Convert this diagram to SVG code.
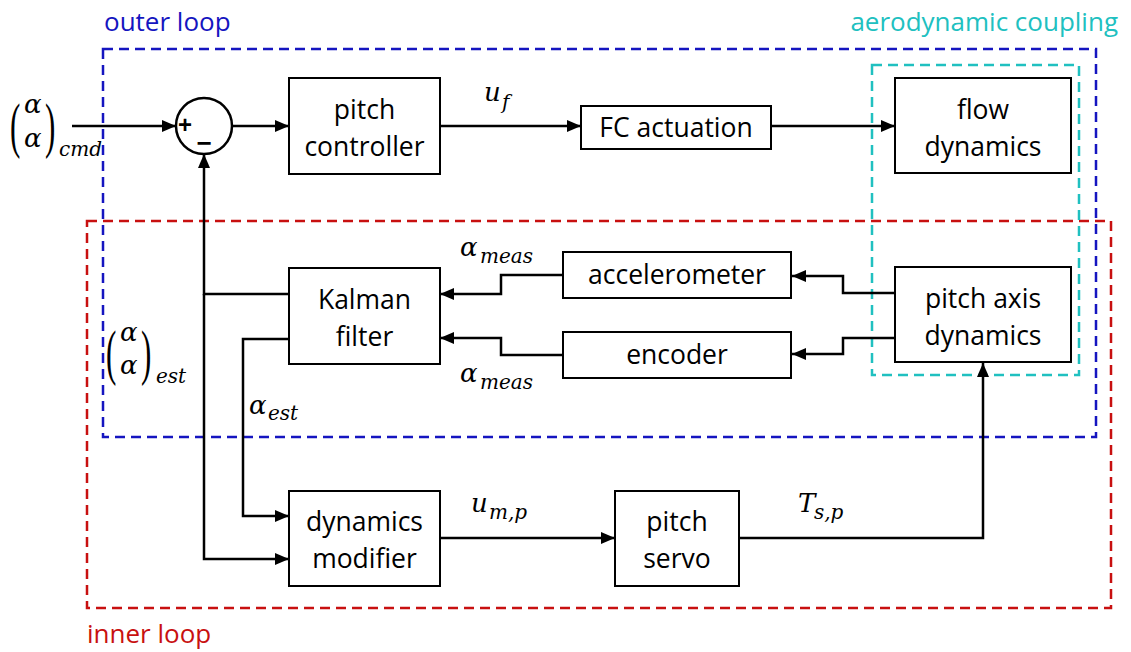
<svg xmlns="http://www.w3.org/2000/svg" width="1131" height="652" viewBox="0 0 1131 652">
  <defs>
    <marker id="arrow" viewBox="0 0 14 12" refX="14" refY="6" markerWidth="14" markerHeight="12" markerUnits="userSpaceOnUse" orient="auto">
      <path d="M0,0 L14,6 L0,12 Z" fill="#000"/>
    </marker>
    <style>
      .blk { fill: #fff; stroke: #000; stroke-width: 2; }
      .lbl { font-family: "Open Sans", "Noto Sans", sans-serif; font-size: 26.5px; fill: #000; text-anchor: middle; }
      .wire { fill: none; stroke: #000; stroke-width: 2.5; }
      .math { font-family: "DejaVu Serif", "Liberation Serif", serif; font-style: italic; fill: #000; }
      .paren { font-family: "Liberation Serif", serif; font-size: 62px; fill: #000; }
      .region { fill: none; stroke-width: 2.5; stroke-dasharray: 10 6; }
      .title { font-family: "Open Sans", "Noto Sans", sans-serif; font-size: 26px; }
    </style>
  </defs>

  <!-- loop regions -->
  <g id="regions">
    <rect class="region" x="103" y="49" width="993" height="388" stroke="#1515c0"/>
    <rect class="region" x="87" y="221" width="1024" height="387" stroke="#c81010"/>
    <rect class="region" x="872" y="65" width="207" height="310" stroke="#20c0c0"/>
    <text class="title" x="104" y="31" fill="#1515c0">outer loop</text>
    <text class="title" x="1118" y="31" fill="#20c0c0" text-anchor="end">aerodynamic coupling</text>
    <text class="title" x="87" y="643" fill="#c81010">inner loop</text>
  </g>

  <!-- connectors -->
  <g id="connectors">
    <path class="wire" d="M72,126 H176" marker-end="url(#arrow)"/>
    <path class="wire" d="M232,126 H289" marker-end="url(#arrow)"/>
    <path class="wire" d="M440,126 H581" marker-end="url(#arrow)"/>
    <path class="wire" d="M771,126 H895" marker-end="url(#arrow)"/>
    <!-- estimate feedback to summing junction and dynamics modifier -->
    <path class="wire" d="M289,294 H204 V154" marker-end="url(#arrow)"/>
    <path class="wire" d="M204,294 V559 H289" marker-end="url(#arrow)"/>
    <path class="wire" d="M289,339 H243 V516 H289" marker-end="url(#arrow)"/>
    <!-- sensors to Kalman filter -->
    <path class="wire" d="M562,275 H501 V294 H440" marker-end="url(#arrow)"/>
    <path class="wire" d="M562,355 H501 V338 H440" marker-end="url(#arrow)"/>
    <!-- plant to sensors -->
    <path class="wire" d="M895,293 H843 V276 H792" marker-end="url(#arrow)"/>
    <path class="wire" d="M895,338 H843 V354 H792" marker-end="url(#arrow)"/>
    <!-- inner loop actuation -->
    <path class="wire" d="M440,538 H615" marker-end="url(#arrow)"/>
    <path class="wire" d="M739,538 H983 V363" marker-end="url(#arrow)"/>
  </g>

  <!-- summing junction -->
  <g id="sum">
    <circle cx="204" cy="126" r="28" fill="#fff" stroke="#000" stroke-width="2.5"/>
    <text x="185" y="133" font-family="Liberation Sans, sans-serif" font-size="24" font-weight="bold" text-anchor="middle">+</text>
    <text x="204" y="152" font-family="Liberation Sans, sans-serif" font-size="26" font-weight="bold" text-anchor="middle">−</text>
  </g>

  <g id="pitch-controller">
    <rect class="blk" x="289" y="78" width="151" height="96"/>
    <text class="lbl" x="364.5" y="119">pitch</text>
    <text class="lbl" x="364.5" y="156">controller</text>
  </g>
  <g id="fc-actuation">
    <rect class="blk" x="581" y="106" width="190" height="43"/>
    <text class="lbl" x="676" y="137">FC actuation</text>
  </g>
  <g id="flow-dynamics">
    <rect class="blk" x="895" y="78" width="176" height="95"/>
    <text class="lbl" x="983" y="119">flow</text>
    <text class="lbl" x="983" y="156">dynamics</text>
  </g>
  <g id="accelerometer">
    <rect class="blk" x="563" y="252" width="228" height="46"/>
    <text class="lbl" x="677" y="284">accelerometer</text>
  </g>
  <g id="encoder">
    <rect class="blk" x="563" y="332" width="228" height="46"/>
    <text class="lbl" x="677" y="364">encoder</text>
  </g>
  <g id="pitch-axis-dynamics">
    <rect class="blk" x="895" y="267" width="176" height="95"/>
    <text class="lbl" x="983" y="308">pitch axis</text>
    <text class="lbl" x="983" y="345">dynamics</text>
  </g>
  <g id="kalman-filter">
    <rect class="blk" x="289" y="268" width="151" height="96"/>
    <text class="lbl" x="364.5" y="309">Kalman</text>
    <text class="lbl" x="364.5" y="346">filter</text>
  </g>
  <g id="dynamics-modifier">
    <rect class="blk" x="289" y="491" width="151" height="95"/>
    <text class="lbl" x="364.5" y="531">dynamics</text>
    <text class="lbl" x="364.5" y="568">modifier</text>
  </g>
  <g id="pitch-servo">
    <rect class="blk" x="615" y="491" width="124" height="95"/>
    <text class="lbl" x="677" y="531">pitch</text>
    <text class="lbl" x="677" y="568">servo</text>
  </g>

  <!-- signal labels -->
  <g id="signal-labels">
    <!-- commanded state vector -->
    <text class="paren" transform="translate(10,146) scale(0.5,1)">(</text>
    <text class="paren" transform="translate(45,146) scale(0.5,1)">)</text>
    <text class="math" x="24" y="113" font-size="26">α</text>
    <text class="math" x="24" y="147" font-size="26">α</text>
    <text class="math" x="59" y="156" font-size="20">cmd</text>

    <!-- estimated state vector -->
    <text class="paren" transform="translate(106,373) scale(0.5,1)">(</text>
    <text class="paren" transform="translate(141,373) scale(0.5,1)">)</text>
    <text class="math" x="120" y="341" font-size="26">α</text>
    <text class="math" x="120" y="374" font-size="26">α</text>
    <text class="math" x="156" y="383" font-size="20">est</text>

    <text class="math" x="249" y="414" font-size="26">α</text>
    <text class="math" x="268" y="420" font-size="20">est</text>

    <text class="math" x="460" y="256" font-size="26">α</text>
    <text class="math" x="480" y="263" font-size="20">meas</text>
    <text class="math" x="460" y="382" font-size="26">α</text>
    <text class="math" x="480" y="389" font-size="20">meas</text>

    <text class="math" x="484" y="101" font-size="26">u</text>
    <text class="math" x="502" y="109" font-size="20">f</text>

    <text class="math" x="471" y="512" font-size="26">u</text>
    <text class="math" x="489" y="519" font-size="20">m,p</text>

    <text class="math" x="798" y="512" font-size="26">T</text>
    <text class="math" x="814" y="519" font-size="20">s,p</text>
  </g>
</svg>
